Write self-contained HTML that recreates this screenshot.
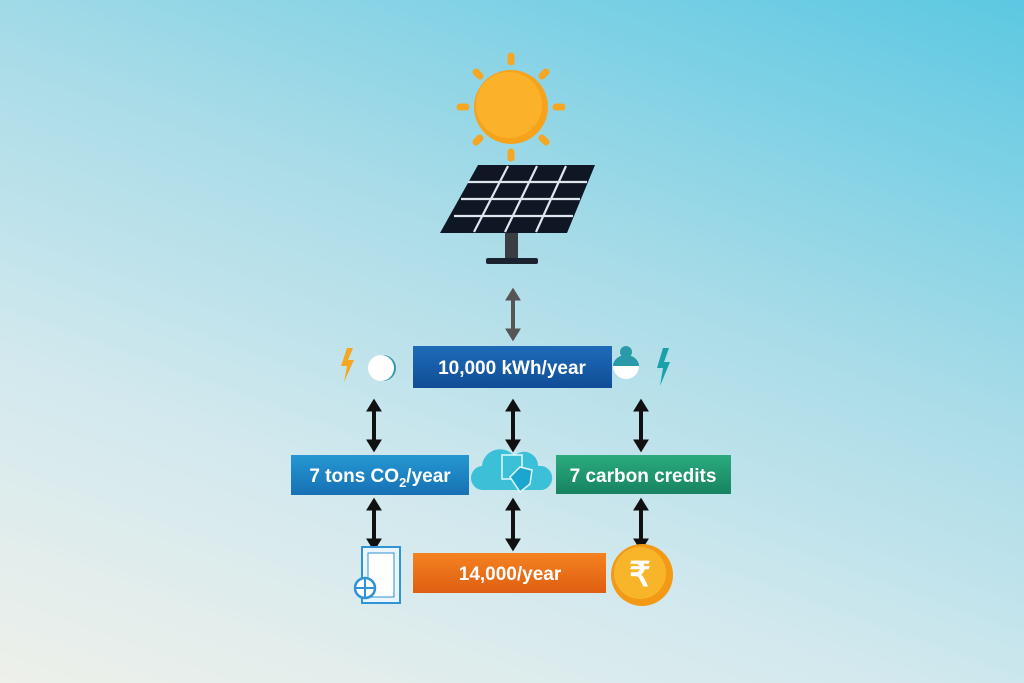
<!DOCTYPE html>
<html><head><meta charset="utf-8"><style>
html,body{margin:0;padding:0;width:1024px;height:683px;overflow:hidden}
body{background:linear-gradient(200deg,#5cc8e2 0%,#a9dce8 40%,#d3e9ee 70%,#eef0ea 100%)}
svg{position:absolute;left:0;top:0}
text{font-family:"Liberation Sans",sans-serif;font-weight:bold;fill:#fff}
</style></head><body>
<svg width="1024" height="683" viewBox="0 0 1024 683">
<defs>
<linearGradient id="gb" x1="0" y1="0" x2="0" y2="1"><stop offset="0" stop-color="#1e6bb8"/><stop offset="1" stop-color="#114d96"/></linearGradient>
<linearGradient id="gl" x1="0" y1="0" x2="0" y2="1"><stop offset="0" stop-color="#2597d2"/><stop offset="1" stop-color="#1771b4"/></linearGradient>
<linearGradient id="gg" x1="0" y1="0" x2="0" y2="1"><stop offset="0" stop-color="#2bab7e"/><stop offset="1" stop-color="#178361"/></linearGradient>
<linearGradient id="go" x1="0" y1="0" x2="0" y2="1"><stop offset="0" stop-color="#f58220"/><stop offset="1" stop-color="#de5f12"/></linearGradient>
<marker id="ah" viewBox="0 0 10 10" refX="2" refY="5" markerUnits="userSpaceOnUse" markerWidth="13" markerHeight="16" orient="auto-start-reverse" preserveAspectRatio="none"><path d="M0,0 L10,5 L0,10 z" fill="#111"/></marker>
<marker id="ag" viewBox="0 0 10 10" refX="2" refY="5" markerUnits="userSpaceOnUse" markerWidth="13" markerHeight="16" orient="auto-start-reverse" preserveAspectRatio="none"><path d="M0,0 L10,5 L0,10 z" fill="#555"/></marker>
</defs>
<g stroke="#f5a623" stroke-width="7" stroke-linecap="round">
<line x1="511" y1="56" x2="511" y2="62"/><line x1="511" y1="152" x2="511" y2="158"/>
<line x1="460" y1="107" x2="466" y2="107"/><line x1="556" y1="107" x2="562" y2="107"/>
<line x1="476" y1="72" x2="480" y2="76"/><line x1="542" y1="138" x2="546" y2="142"/>
<line x1="546" y1="72" x2="542" y2="76"/><line x1="476" y1="142" x2="480" y2="138"/>
</g>
<circle cx="511" cy="107" r="37" fill="#f7a21b"/>
<circle cx="509" cy="105" r="33" fill="#fbb12a"/>
<rect x="505" y="230" width="13" height="30" fill="#3a3d42"/>
<rect x="486" y="258" width="52" height="6" rx="2" fill="#1b2330"/>
<polygon points="478,165 595,165 567,233 440,233" fill="#0f1724"/>
<g stroke="#dfe6ee" stroke-width="2.2">
<line x1="468" y1="182" x2="587" y2="182"/><line x1="461" y1="199" x2="580" y2="199"/><line x1="454" y1="216" x2="573" y2="216"/>
<line x1="508" y1="166" x2="474" y2="232"/><line x1="537" y1="166" x2="505" y2="232"/><line x1="566" y1="166" x2="536" y2="232"/>
</g>
<line x1="513" y1="298" x2="513" y2="331" stroke="#555" stroke-width="4" marker-start="url(#ag)" marker-end="url(#ag)"/>
<g stroke="#111" stroke-width="4">
<line x1="374" y1="409" x2="374" y2="442" marker-start="url(#ah)" marker-end="url(#ah)"/>
<line x1="513" y1="409" x2="513" y2="442" marker-start="url(#ah)" marker-end="url(#ah)"/>
<line x1="641" y1="409" x2="641" y2="442" marker-start="url(#ah)" marker-end="url(#ah)"/>
<line x1="374" y1="508" x2="374" y2="541" marker-start="url(#ah)" marker-end="url(#ah)"/>
<line x1="513" y1="508" x2="513" y2="541" marker-start="url(#ah)" marker-end="url(#ah)"/>
<line x1="641" y1="508" x2="641" y2="541" marker-start="url(#ah)" marker-end="url(#ah)"/>
</g>
<rect x="413" y="346" width="199" height="42" fill="url(#gb)"/>
<text x="512" y="374" font-size="19" text-anchor="middle">10,000 kWh/year</text>
<rect x="291" y="455" width="178" height="40" fill="url(#gl)"/>
<text x="380" y="482" font-size="19" text-anchor="middle">7 tons CO<tspan font-size="13" dy="5">2</tspan><tspan dy="-5">/year</tspan></text>
<rect x="556" y="455" width="175" height="39" fill="url(#gg)"/>
<text x="643" y="482" font-size="19" text-anchor="middle">7 carbon credits</text>
<rect x="413" y="553" width="193" height="40" fill="url(#go)"/>
<text x="510" y="580" font-size="19" text-anchor="middle">14,000/year</text>
<polygon points="347,348 341,366 347,366 344,382 354,360 348,360 353,348" fill="#f5a623"/>
<circle cx="383" cy="368" r="13" fill="#2a9aa8"/><circle cx="381" cy="368" r="13" fill="#fff"/>
<circle cx="626" cy="352" r="6" fill="#2a9aa8"/>
<path d="M613,366 a13,13 0 0 0 26,0 z" fill="#fff"/><path d="M613,366 a13,11 0 0 1 26,0 z" fill="#2a9aa8"/>
<polygon points="663,348 657,368 663,368 660,386 670,362 664,362 669,348" fill="#1aa0a8"/>
<path d="M484,490 a12,12 0 0 1 -2,-24 a18,18 0 0 1 32,-10 a14,14 0 0 1 24,10 a12,12 0 0 1 4,24 z" fill="#3cc0d8"/>
<path d="M502,455 h20 v24 h-20 z" fill="none" stroke="#e0f7fb" stroke-width="1.5"/>
<polygon points="510,477 520,467 532,470 530,484 520,492" fill="#1ba6d0" stroke="#e0f7fb" stroke-width="1.5"/>
<rect x="362" y="547" width="38" height="56" fill="#eaf5fc" stroke="#2f93d6" stroke-width="2"/>
<rect x="368" y="553" width="26" height="44" fill="#fff" stroke="#2f93d6" stroke-width="1"/>
<circle cx="365" cy="588" r="10" fill="#fff" stroke="#2f93d6" stroke-width="2.5"/>
<line x1="365" y1="579" x2="365" y2="597" stroke="#2f93d6" stroke-width="2"/><line x1="356" y1="588" x2="374" y2="588" stroke="#2f93d6" stroke-width="2"/>
<circle cx="642" cy="575" r="31" fill="#f29a16"/>
<circle cx="640" cy="573" r="26" fill="#f8b52a"/>
<text x="640" y="586" font-size="34" text-anchor="middle" font-family="DejaVu Sans">₹</text>
</svg>
</body></html>
